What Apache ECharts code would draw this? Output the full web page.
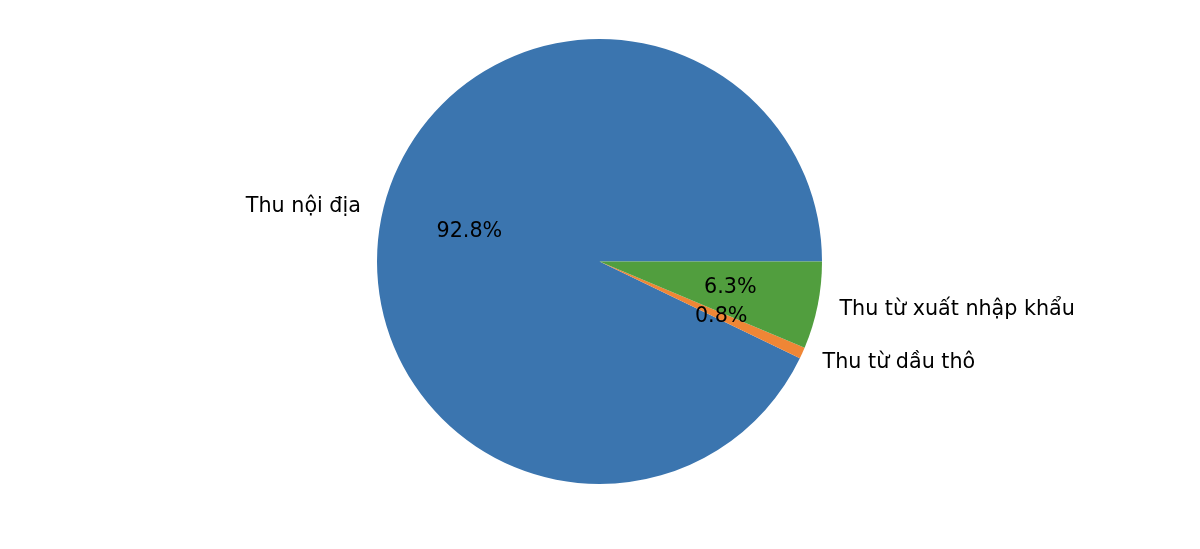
<!DOCTYPE html>
<html>
<head>
<meta charset="utf-8">
<script src="https://cdn.jsdelivr.net/npm/echarts@6/dist/echarts.min.js"></script>
<style>
html,body{margin:0;padding:0;background:#fff;}
#chart{width:1200px;height:549px;}
</style>
</head>
<body>
<div id="chart"></div>
<script>
const categories = ['Thu nội địa', 'Thu từ dầu thô', 'Thu từ xuất nhập khẩu'];
const shares = [92.84, 0.83, 6.33];
const colors = ['#3b75af', '#ef8636', '#519e3e'];

const R = 222.5;
const center = [599.5, 261.5];
const font = 'DejaVu Sans';
const fsize = 20.7;
const total = shares.reduce((a, b) => a + b, 0);

const chart = echarts.init(document.getElementById('chart'), null, {renderer: 'canvas'});
chart.setOption({
  animation: false,
  backgroundColor: '#ffffff',
  series: [
    {
      type: 'pie',
      center: center,
      radius: [0, R],
      startAngle: 0,
      clockwise: false,
      avoidLabelOverlap: false,
      silent: true,
      data: categories.map((c, i) => ({name: c, value: shares[i], itemStyle: {color: colors[i]}})),
      itemStyle: {borderWidth: 0},
      label: {
        show: true,
        position: 'outside',
        formatter: '{b}',
        color: '#000',
        fontFamily: font,
        fontSize: fsize,
        distanceToLabelLine: 0
      },
      labelLine: {show: false, length: R * 0.1, length2: 0}
    },
    {
      type: 'pie',
      center: center,
      radius: [0, 1.2 * R - 6],
      startAngle: 0,
      clockwise: false,
      avoidLabelOverlap: false,
      silent: true,
      z: 5,
      data: categories.map((c, i) => ({name: c, value: shares[i]})),
      itemStyle: {color: 'rgba(0,0,0,0)', borderWidth: 0},
      label: {
        show: true,
        position: 'inside',
        formatter: p => (p.value / total * 100).toFixed(1) + '%',
        color: '#000',
        fontFamily: font,
        fontSize: fsize
      },
      labelLine: {show: false}
    }
  ]
});
</script>
</body>
</html>
